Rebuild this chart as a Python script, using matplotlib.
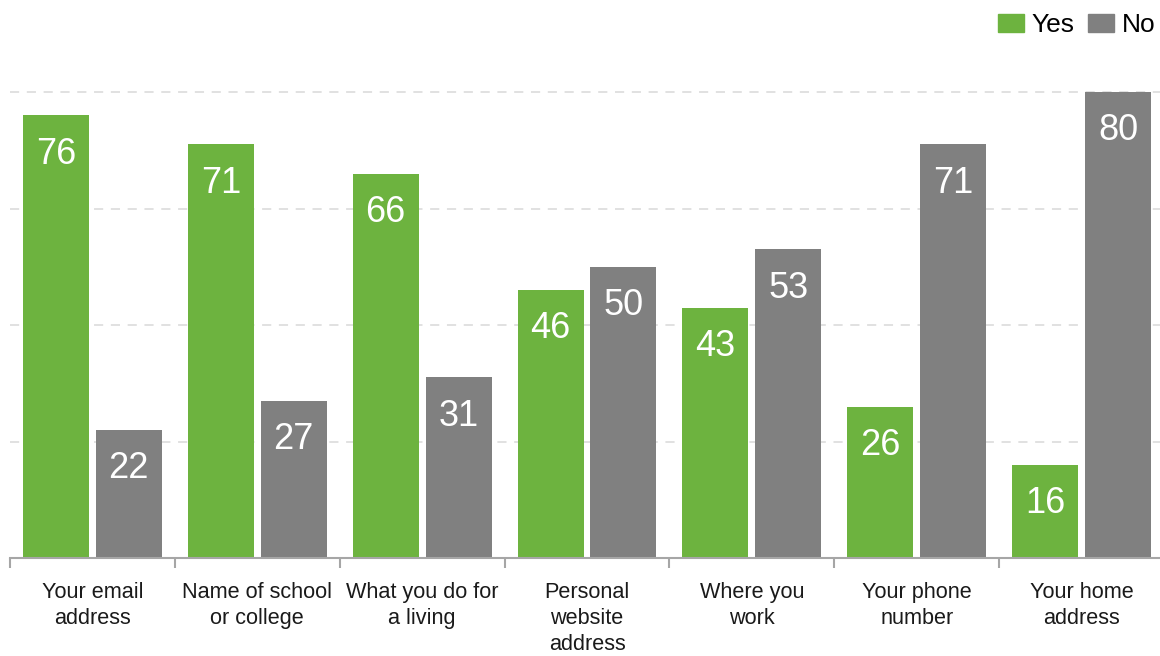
import numpy as np
import matplotlib.pyplot as plt
from matplotlib.patches import Patch

plt.rcParams['font.family'] = ['Liberation Sans', 'DejaVu Sans']

categories = ['Your email\naddress', 'Name of school\nor college', 'What you do for\na living',
              'Personal\nwebsite\naddress', 'Where you\nwork', 'Your phone\nnumber', 'Your home\naddress']
yes_vals = [76, 71, 66, 46, 43, 26, 16]
no_vals = [22, 27, 31, 50, 53, 71, 80]

GREEN = '#6DB33F'
GREY = '#808080'

fig = plt.figure(figsize=(11.6, 6.56), dpi=100)
# axes runs a little past the right edge of the figure
ax = fig.add_axes([10 / 1160, 1 - 558 / 656, 1154 / 1160, 466 / 656])

x = np.arange(len(categories))
w = 0.40
off = 0.221
bars_yes = ax.bar(x - off, yes_vals, w, color=GREEN, zorder=3)
bars_no = ax.bar(x + off, no_vals, w, color=GREY, zorder=3)

# value labels inside the top of each bar
for bars in (bars_yes, bars_no):
    for b in bars:
        h = b.get_height()
        ax.annotate(f'{h:g}', (b.get_x() + b.get_width() / 2, h), xytext=(0, -28),
                    textcoords='offset points', ha='center', va='center',
                    color='white', fontsize=26, zorder=4)

ax.set_xlim(-0.5, len(categories) - 0.5)
ax.set_ylim(0, 80)

# dashed horizontal gridlines
for g in [20, 40, 60, 80]:
    ax.axhline(g, color='#D9D9D9', lw=1.1, dashes=(6, 5), zorder=1, clip_on=False)

for s in ['top', 'right', 'left']:
    ax.spines[s].set_visible(False)
ax.spines['bottom'].set_color('#A6A6A6')
ax.spines['bottom'].set_linewidth(1.5)
ax.spines['bottom'].set_zorder(5)

ax.set_yticks([])
ax.set_xticks(x)
ax.set_xticklabels(categories, fontsize=15.6, color='#1A1A1A', linespacing=1.33, va='top')
ax.tick_params(axis='x', which='major', length=0, pad=17)
ax.set_xticks(np.arange(len(categories) + 1) - 0.5, minor=True)
ax.tick_params(axis='x', which='minor', length=7, width=1.5, color='#A6A6A6', direction='out')

handles = [Patch(color=GREEN, label='Yes'), Patch(color=GREY, label='No')]
fig.legend(handles=handles, loc='center right', bbox_to_anchor=(1156 / 1160, 1 - 25 / 656),
           ncol=2, frameon=False, fontsize=19, handlelength=1.0, handleheight=0.68,
           handletextpad=0.3, columnspacing=0.5, borderpad=0, borderaxespad=0)

plt.savefig('out.png', dpi=100, facecolor='white')
plt.close()
